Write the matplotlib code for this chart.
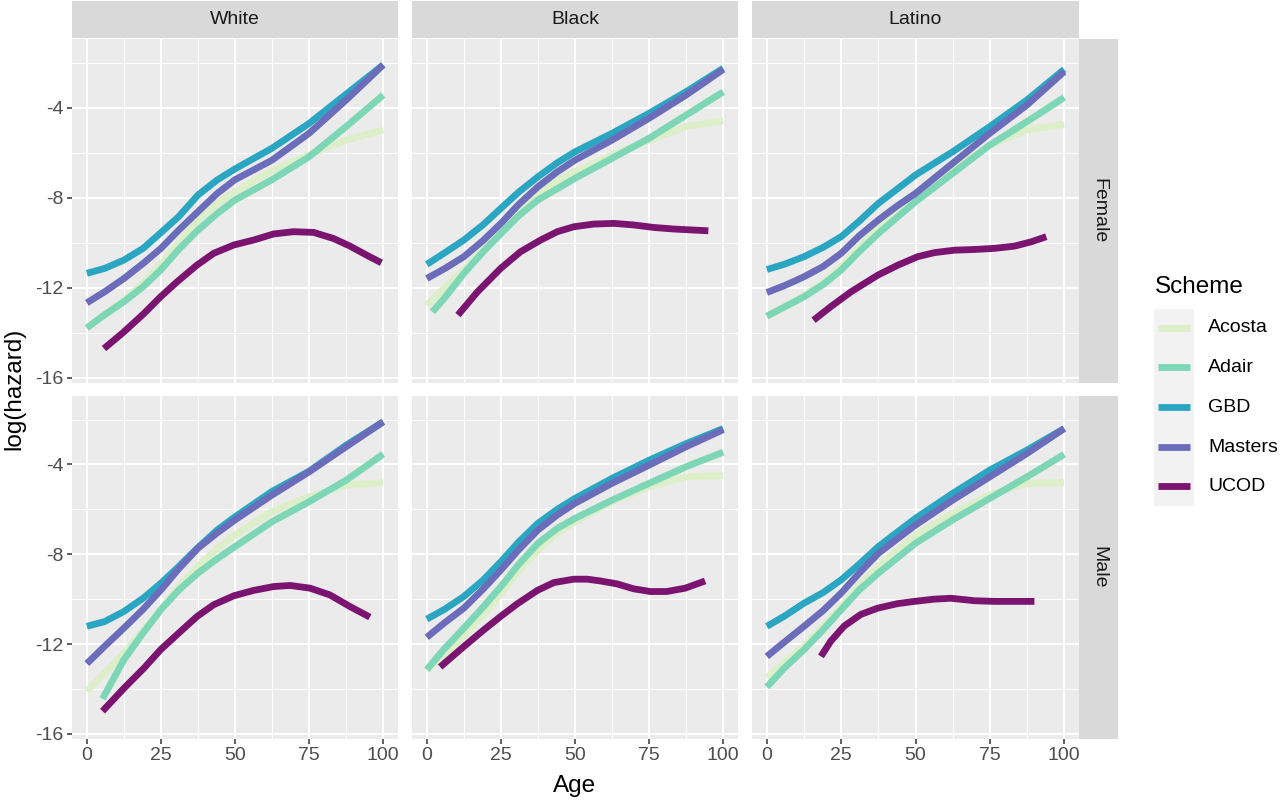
import matplotlib
matplotlib.use("Agg")
import matplotlib.pyplot as plt

plt.rcParams["font.family"] = ["Liberation Sans", "DejaVu Sans"]

# ---- data: log(hazard) by age, per panel and scheme ----
races = ["White", "Black", "Latino"]
sexes = ["Female", "Male"]
schemes = ["Acosta", "Adair", "GBD", "Masters", "UCOD"]
colors = ["#dcefc8", "#7dd6b6", "#2ba6c2", "#6b6cba", "#7b1470"]

ages = [0, 6, 12.5, 19, 25, 31, 37.5, 44, 50, 62.5, 75, 87.5, 100]

white_female = {
    "Acosta": (ages, [-13.8, -13.2, -12.55, -11.8, -10.95, -10.0, -9.0, -8.25, -7.73, -6.8, -6.1, -5.44, -4.99]),
    "Adair": (ages, [-13.78, -13.2, -12.62, -11.95, -11.2, -10.3, -9.44, -8.7, -8.1, -7.2, -6.18, -4.84, -3.44]),
    "GBD": (ages, [-11.36, -11.14, -10.77, -10.25, -9.55, -8.84, -7.88, -7.21, -6.72, -5.8, -4.7, -3.4, -2.1]),
    "Masters": (ages, [-12.67, -12.18, -11.59, -10.92, -10.25, -9.44, -8.62, -7.81, -7.2, -6.33, -5.14, -3.66, -2.1]),
    "UCOD": ([5.8, 12.5, 19.3, 24.9, 30.5, 37.2, 42.8, 49.6, 56.3, 63, 69.7, 76.5, 83.2, 88.8, 94.4, 99.4],
             [-14.7, -13.96, -13.14, -12.4, -11.73, -10.99, -10.47, -10.1, -9.88, -9.61, -9.51, -9.54,
              -9.81, -10.15, -10.55, -10.89]),
}
white_male = {
    "Acosta": (ages, [-14.1, -13.3, -12.4, -11.4, -10.47, -9.45, -8.55, -7.75, -7.14, -6.1, -5.44, -4.92, -4.81]),
    "Adair": ([5.3, 12.5, 19, 25, 31, 37.5, 44, 50, 62.5, 75, 87.5, 100],
              [-14.44, -12.7, -11.5, -10.47, -9.6, -8.84, -8.2, -7.66, -6.55, -5.66, -4.7, -3.54]),
    "GBD": (ages, [-11.21, -11.0, -10.55, -9.96, -9.29, -8.55, -7.7, -6.92, -6.33, -5.2, -4.3, -3.14, -2.1]),
    "Masters": (ages, [-12.87, -12.1, -11.29, -10.45, -9.59, -8.65, -7.73, -7.05, -6.47, -5.36, -4.33, -3.21, -2.1]),
    "UCOD": ([5.3, 12.6, 19.3, 24.9, 31.6, 37.2, 42.8, 49.6, 56.3, 63, 68.6, 75.3, 82, 88.8, 95.5],
             [-14.99, -13.96, -13.07, -12.25, -11.44, -10.77, -10.25, -9.85, -9.61, -9.44, -9.39, -9.51,
              -9.81, -10.33, -10.8]),
}
black_female = {
    "Acosta": (ages, [-12.77, -12.0, -11.21, -10.25, -9.36, -8.5, -7.81, -7.25, -6.84, -6.1, -5.44, -4.84, -4.58]),
    "Adair": ([1.9, 6, 12.5, 19, 25, 31, 37.5, 44, 50, 62.5, 75, 87.5, 100],
              [-13.07, -12.45, -11.36, -10.4, -9.59, -8.8, -8.1, -7.6, -7.14, -6.25, -5.36, -4.33, -3.3]),
    "GBD": (ages, [-10.96, -10.45, -9.88, -9.2, -8.47, -7.75, -7.07, -6.45, -5.96, -5.14, -4.25, -3.29, -2.25]),
    "Masters": (ages, [-11.59, -11.15, -10.62, -9.9, -9.14, -8.3, -7.51, -6.85, -6.33, -5.44, -4.47, -3.44, -2.3]),
    "UCOD": ([10.5, 17.1, 24.9, 31.6, 38.4, 44, 49.6, 56.3, 63.1, 69.8, 76.5, 83.3, 95],
             [-13.21, -12.18, -11.14, -10.4, -9.88, -9.51, -9.29, -9.17, -9.14, -9.21, -9.32, -9.39, -9.47]),
}
black_male = {
    "Acosta": (ages, [-13.14, -12.45, -11.66, -10.7, -9.73, -8.75, -7.81, -7.05, -6.55, -5.66, -4.99, -4.55, -4.5]),
    "Adair": (ages, [-13.14, -12.2, -11.29, -10.35, -9.44, -8.45, -7.51, -6.85, -6.4, -5.59, -4.84, -4.1, -3.45]),
    "GBD": (ages, [-10.89, -10.45, -9.88, -9.15, -8.33, -7.45, -6.62, -6.0, -5.51, -4.62, -3.81, -3.07, -2.4]),
    "Masters": (ages, [-11.7, -11.05, -10.4, -9.55, -8.7, -7.8, -6.92, -6.25, -5.73, -4.84, -4.03, -3.21, -2.45]),
    "UCOD": ([4.5, 12.6, 19.3, 24.9, 30.5, 37.3, 42.9, 49.6, 54.1, 58.6, 64.2, 69.8, 75.4, 81, 87.2, 93.9],
             [-13.02, -12.1, -11.36, -10.77, -10.21, -9.61, -9.26, -9.11, -9.11, -9.19, -9.32, -9.54,
              -9.66, -9.66, -9.51, -9.19]),
}
latino_female = {
    "Acosta": (ages, [-13.26, -12.85, -12.33, -11.75, -11.07, -10.2, -9.29, -8.6, -7.96, -6.7, -5.66, -4.99, -4.74]),
    "Adair": (ages, [-13.26, -12.85, -12.4, -11.85, -11.21, -10.4, -9.59, -8.85, -8.18, -6.92, -5.66, -4.62, -3.55]),
    "GBD": (ages, [-11.19, -10.95, -10.62, -10.2, -9.73, -9.05, -8.25, -7.6, -6.99, -5.96, -4.84, -3.66, -2.3]),
    "Masters": (ages, [-12.21, -11.9, -11.51, -11.05, -10.47, -9.7, -8.99, -8.35, -7.81, -6.47, -5.14, -3.88, -2.4]),
    "UCOD": ([15.7, 21.5, 28.3, 37.3, 44, 50.7, 56.3, 63.1, 69.8, 76.5, 83.3, 88.9, 94],
             [-13.44, -12.84, -12.18, -11.44, -11.0, -10.62, -10.44, -10.33, -10.3, -10.25, -10.15, -9.96, -9.73]),
}
latino_male = {
    "Acosta": (ages, [-13.51, -12.8, -12.1, -11.2, -10.33, -9.4, -8.55, -7.8, -7.14, -6.18, -5.36, -4.84, -4.81]),
    "Adair": (ages, [-13.91, -13.05, -12.25, -11.35, -10.47, -9.6, -8.84, -8.15, -7.51, -6.47, -5.51, -4.55, -3.55]),
    "GBD": (ages, [-11.21, -10.75, -10.18, -9.7, -9.14, -8.45, -7.66, -7.0, -6.4, -5.29, -4.25, -3.36, -2.4]),
    "Masters": (ages, [-12.55, -11.9, -11.21, -10.5, -9.73, -8.85, -7.96, -7.3, -6.7, -5.59, -4.55, -3.51, -2.4]),
    "UCOD": ([18.2, 21.5, 26, 31.6, 37.3, 44, 49.6, 56.3, 61.9, 69.8, 76.5, 90],
             [-12.55, -11.87, -11.2, -10.68, -10.4, -10.2, -10.1, -10.0, -9.96, -10.07, -10.1, -10.1]),
}

panels = {
    ("White", "Female"): white_female, ("White", "Male"): white_male,
    ("Black", "Female"): black_female, ("Black", "Male"): black_male,
    ("Latino", "Female"): latino_female, ("Latino", "Male"): latino_male,
}

x_ticks = [0, 25, 50, 75, 100]
y_ticks = [-16, -12, -8, -4]

# ---- layout in pixels ----
W, H = 1280, 801
col_px = [(72, 398), (412, 738), (752, 1079)]
row_px = [(39, 383), (396, 739)]
SMALL = 14
LARGE = 17.5


def rect(x0, y0, x1, y1):
    return [x0 / W, 1 - y1 / H, (x1 - x0) / W, (y1 - y0) / H]


def strip(x0, y0, x1, y1, label, rot):
    sa = fig.add_axes(rect(x0, y0, x1, y1))
    sa.set_facecolor("#d9d9d9")
    sa.set_xticks([])
    sa.set_yticks([])
    for s in sa.spines.values():
        s.set_visible(False)
    sa.text(0.5, 0.5, label, ha="center", va="center", rotation=rot,
            fontsize=SMALL, color="#1a1a1a", transform=sa.transAxes)


fig = plt.figure(figsize=(W / 100, H / 100), dpi=100)
fig.patch.set_facecolor("white")

for ci, race in enumerate(races):
    for ri, sex in enumerate(sexes):
        x0, x1 = col_px[ci]
        y0, y1 = row_px[ri]
        ax = fig.add_axes(rect(x0, y0, x1, y1))
        ax.set_facecolor("#ebebeb")
        for s in ax.spines.values():
            s.set_visible(False)
        ax.set_xlim(-5, 105)
        ax.set_ylim(-16.23, -0.95)
        # grid
        for v in [12.5, 37.5, 62.5, 87.5]:
            ax.axvline(v, color="white", lw=0.75, zorder=0)
        for v in [-14, -10, -6, -2]:
            ax.axhline(v, color="white", lw=0.75, zorder=0)
        for v in x_ticks:
            ax.axvline(v, color="white", lw=1.5, zorder=0)
        for v in y_ticks:
            ax.axhline(v, color="white", lw=1.5, zorder=0)

        data = panels[(race, sex)]
        for name, col in zip(schemes, colors):
            xs, ys = data[name]
            ax.plot(xs, ys, color=col, lw=4.9, solid_capstyle="butt",
                    solid_joinstyle="round", zorder=2)

        ax.set_xticks(x_ticks)
        ax.set_yticks(y_ticks)
        ax.tick_params(length=3.5, width=1.1, color="#333333",
                       labelsize=SMALL, labelcolor="#4d4d4d", pad=2.5)
        if ri == 0:
            ax.tick_params(axis="x", bottom=False, labelbottom=False)
        else:
            ax.set_xticklabels([str(v) for v in x_ticks])
        if ci != 0:
            ax.tick_params(axis="y", left=False, labelleft=False)
        else:
            ax.set_yticklabels([str(v) for v in y_ticks])

        if ri == 0:
            strip(x0, 1, x1, 38, race, 0)
        if ci == 2:
            strip(1079, y0, 1118, y1, sex, -90)

# axis titles
fig.text(575 / W, 1 - 786 / H, "Age", ha="center", va="center",
         fontsize=LARGE, color="black")
fig.text(14 / W, 1 - 389 / H, "log(hazard)", ha="center", va="center",
         rotation=90, fontsize=LARGE, color="black")

# legend
fig.text(1155 / W, 1 - 287 / H, "Scheme", ha="left", va="center",
         fontsize=LARGE, color="black")
la = fig.add_axes(rect(1154, 309, 1194, 506))
la.set_facecolor("#f2f2f2")
la.set_xticks([])
la.set_yticks([])
for s in la.spines.values():
    s.set_visible(False)
la.set_xlim(1154, 1194)
la.set_ylim(506, 309)
key_y = [328, 367, 407, 447, 486]
for name, col, ky in zip(schemes, colors, key_y):
    la.plot([1158, 1190], [ky, ky], color=col, lw=4.9, solid_capstyle="butt")
    fig.text(1208 / W, 1 - ky / H, name, ha="left", va="center",
             fontsize=SMALL, color="black")

fig.savefig("out.png", dpi=100)
